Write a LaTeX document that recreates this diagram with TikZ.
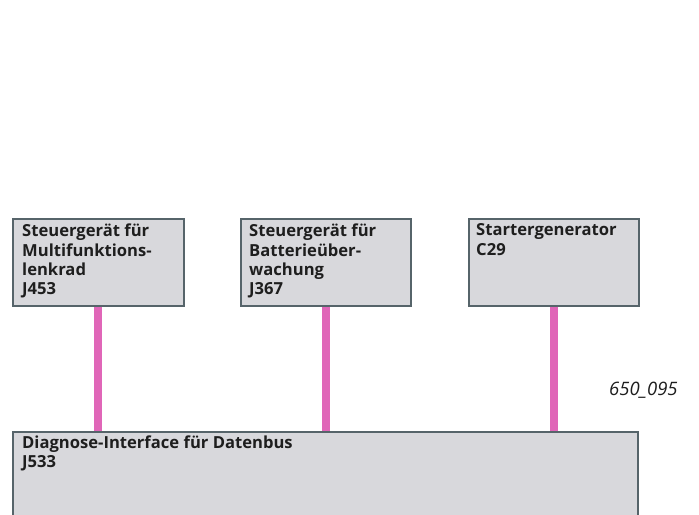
\documentclass[tikz,border=0pt]{standalone}
\usepackage{fontspec}
\newfontfamily\labelfont{Open Sans}
\definecolor{boxfill}{HTML}{D8D8DC}
\definecolor{boxline}{HTML}{56646A}
\definecolor{buspink}{HTML}{E066B8}
\definecolor{figtext}{HTML}{1E1E1E}
% multi-line label whose reference point is the first baseline
\newcommand{\stacklines}[1]{\begin{tabular}[t]{@{}l@{}}#1\end{tabular}}
\tikzset{
  unit/.style={draw=boxline, line width=1.6bp, fill=boxfill, rectangle,
    inner sep=0pt, anchor=north west},
  unitlabel/.style={anchor=base west, inner sep=0pt,
    text=figtext, font=\labelfont\bfseries\fontsize{16.6bp}{19.3bp}\selectfont},
  bus/.style={draw=buspink, line width=8bp},
  figno/.style={anchor=base west, inner sep=0pt, text=figtext,
    font=\labelfont\itshape\fontsize{18.5bp}{20bp}\selectfont}
}
\begin{document}
\begin{tikzpicture}[x=1bp, y=-1bp]
  \useasboundingbox (0,0) rectangle (699,515);
  \fill[white] (0,0) rectangle (699,515);

  % control units
  \node[unit, minimum width=171bp, minimum height=87bp] (j453) at (12,218) {};
  \node[unit, minimum width=170bp, minimum height=87bp] (j367) at (240,218) {};
  \node[unit, minimum width=170bp, minimum height=87bp] (c29)  at (468,218) {};
  \node[unit, minimum width=625bp, minimum height=92bp] (j533) at (12,431) {};

  % data bus lines
  \draw[bus] (j453.south) -- (j453.south |- j533.north);
  \draw[bus] (j367.south) -- (j367.south |- j533.north);
  \draw[bus] (c29.south)  -- (c29.south |- j533.north);

  % labels
  \node[unitlabel] (t453) at ([shift={(10,19)}]j453.north west)
    {\stacklines{Steuergerät für\\Multifunktions-\\lenkrad\\J453}};
  \node[unitlabel] (t367) at ([shift={(9,19)}]j367.north west)
    {\stacklines{Steuergerät für\\Batterieüber-\\wachung\\J367}};
  \node[unitlabel] (t29) at ([shift={(8,18)}]c29.north west)
    {\stacklines{Startergenerator\\C29}};
  \node[unitlabel] (t533) at ([shift={(10,17)}]j533.north west)
    {\stacklines{Diagnose-Interface für Datenbus\\J533}};

  \node[figno] (fig) at (609,395) {650\_095};
\end{tikzpicture}
\end{document}
